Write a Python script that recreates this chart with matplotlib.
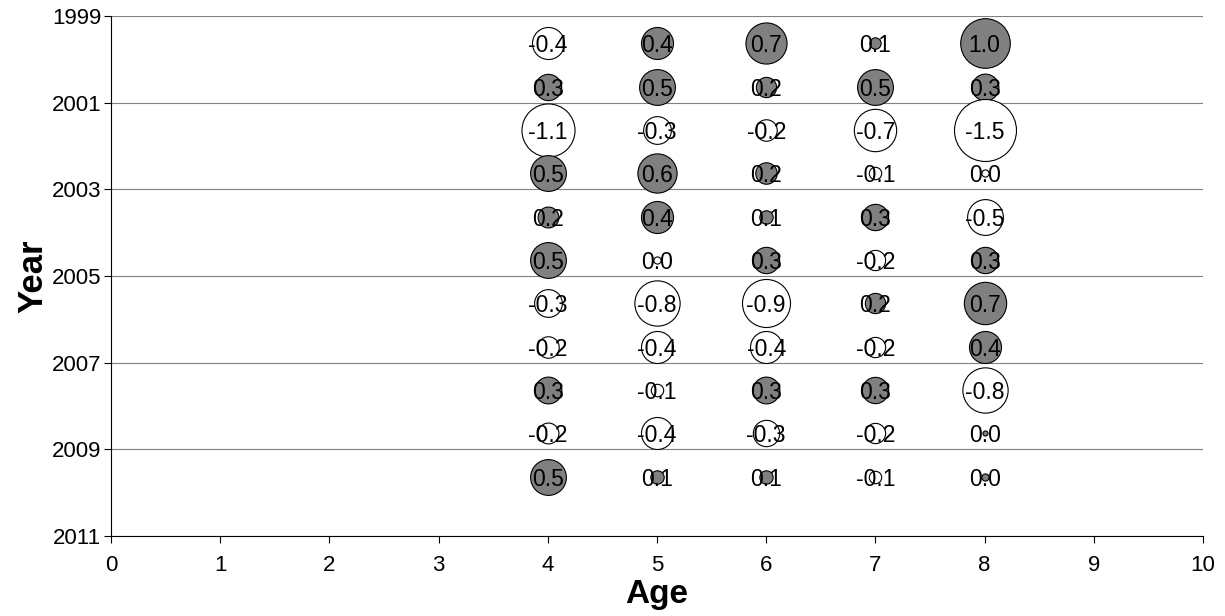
import matplotlib
matplotlib.use("Agg")
import matplotlib.pyplot as plt

# Residual bubble plot: age on x, year on y (reversed), bubble area ~ |residual|
ages = [4, 5, 6, 7, 8]
year_rows = [1999.63, 2000.63, 2001.63, 2002.63, 2003.63, 2004.63,
             2005.63, 2006.63, 2007.63, 2008.63, 2009.63]
residuals = [
    [-0.40, 0.40, 0.66, 0.05, 0.96],
    [0.27, 0.50, 0.16, 0.50, 0.28],
    [-1.10, -0.30, -0.18, -0.70, -1.50],
    [0.50, 0.60, 0.18, -0.06, -0.02],
    [0.17, 0.40, 0.07, 0.27, -0.50],
    [0.50, -0.02, 0.27, -0.16, 0.27],
    [-0.30, -0.80, -0.90, 0.16, 0.70],
    [-0.18, -0.40, -0.40, -0.16, 0.40],
    [0.28, -0.06, 0.28, 0.27, -0.80],
    [-0.17, -0.40, -0.27, -0.16, 0.01],
    [0.50, 0.07, 0.07, -0.06, 0.02],
]
x_ticks = list(range(0, 11))
y_ticks = [1999, 2001, 2003, 2005, 2007, 2009, 2011]

plt.rcParams['font.family'] = ['Liberation Sans', 'DejaVu Sans']

fig = plt.figure(figsize=(12.25, 6.16), dpi=100)
ax = fig.add_axes([111 / 1225, 1 - 536 / 616, (1203 - 111) / 1225, (536 - 16) / 616])

area_per_unit = 1328.0  # points^2 per unit of |residual|

for yr, row in zip(year_rows, residuals):
    for age, v in zip(ages, row):
        face = '#808080' if v >= 0 else 'white'
        ax.scatter([age], [yr], s=abs(v) * area_per_unit, facecolor=face,
                   edgecolor='black', linewidth=0.8, zorder=3)

for yr, row in zip(year_rows, residuals):
    for age, v in zip(ages, row):
        txt = f"{v:.1f}"
        if txt == "-0.0":
            txt = "0.0"
        ax.text(age, yr, txt, ha='center', va='center_baseline',
                fontsize=16.5, color='black', zorder=5)

ax.set_xlim(0, 10)
ax.set_ylim(2011, 1999)
ax.set_xticks(x_ticks)
ax.set_yticks(y_ticks)
ax.tick_params(axis='both', direction='out', length=5, width=0.8,
               labelsize=16, colors='black')
ax.tick_params(axis='x', pad=9)
ax.tick_params(axis='y', pad=2)
ax.yaxis.grid(True, color='#808080', linewidth=0.8)
ax.set_axisbelow(True)

for side in ('top', 'right'):
    ax.spines[side].set_visible(False)
for side in ('left', 'bottom'):
    ax.spines[side].set_color('black')
    ax.spines[side].set_linewidth(0.8)

ax.set_xlabel('Age', fontsize=24, fontweight='bold')
ax.xaxis.set_label_coords(0.5, -58 / 520)
ax.xaxis.label.set_verticalalignment('center')
ax.set_ylabel('Year', fontsize=25, fontweight='bold')
ax.yaxis.set_label_coords(-62 / 1092, 0.5)

fig.savefig('out.png', dpi=100)
